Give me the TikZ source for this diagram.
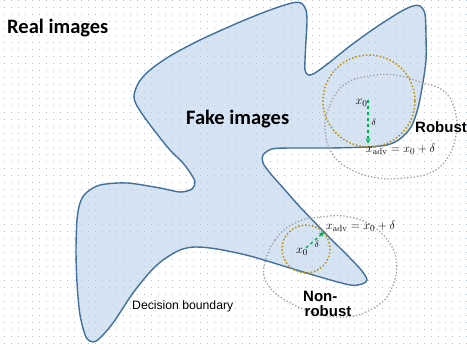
\documentclass[tikz,border=0pt]{standalone}
\usepackage{fontspec}
\newfontfamily\carlito{Carlito}
\newfontfamily\arialf{Liberation Sans}
\usetikzlibrary{arrows.meta}
\definecolor{shapefill}{RGB}{213,227,242}
\definecolor{shapeline}{RGB}{65,113,156}
\definecolor{gold}{RGB}{191,144,0}
\definecolor{grayc}{RGB}{160,160,160}
\definecolor{greenc}{RGB}{0,176,80}
\definecolor{gridc}{RGB}{175,198,222}
\tikzset{
  goldcirc/.style={draw=gold, line width=1.5pt, dotted},
  graycirc/.style={draw=grayc, line width=1.3pt, dotted},
  pert/.style={draw=greenc, line width=1.4pt, dashed, -{Stealth[length=5pt,width=5pt]}},
  bigtitle/.style={font=\carlito\bfseries\fontsize{20.5}{24}\selectfont, anchor=base west, inner sep=0pt},
  roblabel/.style={font=\arialf\bfseries\fontsize{15}{18}\selectfont, anchor=base west, inner sep=0pt},
  smalllabel/.style={font=\arialf\fontsize{12.2}{14}\selectfont, anchor=base west, inner sep=0pt},
  mathlabel/.style={font=\fontsize{12.5}{14}\selectfont, anchor=base west, inner sep=0pt},
}
\begin{document}
\begin{tikzpicture}[x=1pt,y=-1pt]
\useasboundingbox (0,0) rectangle (467,350);
\fill[white] (0,0) rectangle (467,350);
% fake images region
\fill[shapefill] plot[smooth cycle, tension=0.5] coordinates {
(136,104) (134,95) (139,82) (150,70) (170,56) (200,40) (240,22) (270,10) (292,3) (301,3) (306,10) (307,22) (306,40) (305,60) (305,70) (308,75) (315,73) (330,62) (350,46) (375,28) (400,12) (413,6) (420,6) (425,14) (426,35) (426,60) (423,82) (418,108) (411,127) (400,139) (387,145) (367,147) (330,148) (290,148) (272,149) (263,155) (263,163) (270,173) (285,190) (300,207) (327,235) (350,258) (362,271) (367,280) (362,284) (350,285) (320,277) (290,268) (250,256) (217,249) (195,247) (180,250) (163,260) (150,272) (133,293) (113,323) (100,338) (93,342) (86,337) (80,315) (77,283) (76,250) (77,220) (80,203) (86,193) (100,185) (127,183) (160,188) (180,192) (192,189) (195,182) (191,174) (183,163) (170,150) (157,134) (145,118)};
% dot grid
\foreach \i in {0,...,66}{
  \foreach \j in {0,...,49}{
    \fill[gridc] ({3.8+7*\i},{0.5+7*\j}) rectangle ++(1,1);
  }
}
\draw[shapeline, line width=1.4pt] plot[smooth cycle, tension=0.5] coordinates {
(136,104) (134,95) (139,82) (150,70) (170,56) (200,40) (240,22) (270,10) (292,3) (301,3) (306,10) (307,22) (306,40) (305,60) (305,70) (308,75) (315,73) (330,62) (350,46) (375,28) (400,12) (413,6) (420,6) (425,14) (426,35) (426,60) (423,82) (418,108) (411,127) (400,139) (387,145) (367,147) (330,148) (290,148) (272,149) (263,155) (263,163) (270,173) (285,190) (300,207) (327,235) (350,258) (362,271) (367,280) (362,284) (350,285) (320,277) (290,268) (250,256) (217,249) (195,247) (180,250) (163,260) (150,272) (133,293) (113,323) (100,338) (93,342) (86,337) (80,315) (77,283) (76,250) (77,220) (80,203) (86,193) (100,185) (127,183) (160,188) (180,192) (192,189) (195,182) (191,174) (183,163) (170,150) (157,134) (145,118)};
% gray perturbation regions
\draw[graycirc] plot[smooth cycle, tension=0.7] coordinates {
(325,130) (330,105) (345,84) (370,76) (395,75) (420,82) (445,92) (456,115) (455,140) (446,160) (430,173) (405,178) (378,178) (352,170) (333,155)};
\draw[graycirc] plot[smooth cycle, tension=0.7] coordinates {
(264,267) (275,240) (295,223) (320,217) (350,217) (378,230) (396,258) (390,292) (370,310) (345,317) (315,313) (285,300) (268,285)};
% gold circles
\draw[goldcirc] (369,101) circle[radius=46];
\draw[goldcirc] (306,249) circle[radius=24];
% coordinates
\coordinate (r0) at (368,100);
\coordinate (radv) at (368,143.5);
\coordinate (n0) at (306,248);
\coordinate (nadv) at (324,232);
\draw[pert] (r0) -- (radv);
\draw[pert] (n0) -- (nadv);
% labels
\node[bigtitle] (real) at (7,33.3) {Real images};
\node[bigtitle] (fake) at (186,125) {Fake images};
\node[roblabel] (rob) at (415,133) {Robust};
\node[roblabel] (non1) at (303,301.5) {Non-};
\node[roblabel] (non2) at (304.5,317) {robust};
\node[smalllabel] (db) at (132,309.3) {Decision boundary};
\node[mathlabel] (rx0) at (355.5,104.5) {$x_0$};
\node[mathlabel] (rdel) at (371.5,126) {\fontsize{9.5}{10}\selectfont$\delta$};
\node[mathlabel] (rxadv) at (366,153) {$x_{\mathrm{adv}}=x_0+\delta$};
\node[mathlabel] (nx0) at (296,254) {$x_0$};
\node[mathlabel] (ndel) at (314.5,248) {\fontsize{9.5}{10}\selectfont$\delta$};
\node[mathlabel] (nxadv) at (326,230) {$x_{\mathrm{adv}}=x_0+\delta$};
\end{tikzpicture}
\end{document}
